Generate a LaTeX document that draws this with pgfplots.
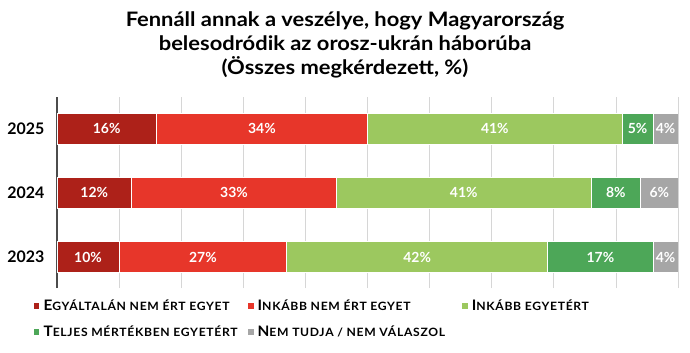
\documentclass[border=0pt]{standalone}
\usepackage{fontspec}
\setmainfont{Lato}
\usepackage{pgfplots}
\usepackage{pgfplotstable}
\pgfplotsset{compat=1.18}
\definecolor{cA}{HTML}{AD2119}
\definecolor{cB}{HTML}{E7362A}
\definecolor{cC}{HTML}{9CC85F}
\definecolor{cD}{HTML}{4DA758}
\definecolor{cE}{HTML}{A6A6A6}
\pgfplotstableread{
y v
0 10
1 12
2 16
}\tA
\pgfplotstableread{
y v
0 27
1 33
2 34
}\tB
\pgfplotstableread{
y v
0 42
1 41
2 41
}\tC
\pgfplotstableread{
y v
0 17
1 8
2 5
}\tD
\pgfplotstableread{
y v
0 4
1 6
2 4
}\tE
\newcommand{\fsc}[2]{{\addfontfeatures{FakeStretch=1.06}\fontsize{14.5}{15}\selectfont #1}{\addfontfeatures{LetterSpace=6,FakeStretch=1.06}\fontsize{11.5}{12}\selectfont #2}}
\newcommand{\legtxt}[1]{\makebox[202bp][l]{\bfseries #1}}
\begin{document}
\begin{tikzpicture}
\useasboundingbox (0,0) rectangle (690bp,353bp);
\tikzset{ttl/.style={anchor=base,font=\fontsize{20}{22}\selectfont\bfseries\addfontfeatures{FakeStretch=1.1}}}
\node[ttl] at (345bp,326bp) {Fennáll annak a veszélye, hogy Magyarország};
\node[ttl] at (345bp,302bp) {belesodródik az orosz-ukrán háborúba};
\node[ttl] at (345bp,278bp) {(Összes megkérdezett, \%)};
\begin{axis}[
  at={(57bp,65bp)}, anchor=south west,
  scale only axis, width=621bp, height=191bp,
  xbar stacked, bar width=31bp,
  xmin=0, xmax=100, ymin=-0.48, ymax=2.49,
  xtick={0,10,...,100}, xticklabels={},
  ytick={0,1,2}, yticklabels={\textbf{2023},\textbf{2024},\textbf{2025}},
  /pgf/number format/assume math mode=true,
  yticklabel style={font=\fontsize{16}{18}\selectfont\bfseries, xshift=-9bp},
  xmajorgrids, major grid style={draw=black!16, line width=0.8bp},
  separate axis lines,
  axis x line*=bottom, axis y line*=left,
  x axis line style={draw=none},
  y axis line style={draw=black!70, line width=1.3bp, -},
  major tick length=0pt,
  every axis plot/.append style={draw=white, line width=0.6bp},
  nodes near coords={\pgfmathprintnumber{\pgfplotspointmeta}\%},
  point meta=explicit,
  every node near coord/.append style={anchor=center, text=white, font=\fontsize{14}{16}\selectfont\bfseries},
  legend columns=3,
  legend style={at={(-0.039,-0.055)}, anchor=north west, draw=none, fill=none,
    inner sep=0pt, row sep=10bp, nodes={inner sep=1.5bp},
    /tikz/every odd column/.append style={column sep=2bp}},
  legend cell align=left,
  legend image code/.code={\fill[#1] (0bp,-3.5bp) rectangle (6.5bp,3.5bp);},
]
\addplot[fill=cA] table[x=v, y=y, meta=v] {\tA};
\addplot[fill=cB] table[x=v, y=y, meta=v] {\tB};
\addplot[fill=cC] table[x=v, y=y, meta=v] {\tC};
\addplot[fill=cD] table[x=v, y=y, meta=v] {\tD};
\addplot[fill=cE] table[x=v, y=y, meta=v] {\tE};
\legend{\legtxt{\fsc{E}{GYÁLTALÁN NEM ÉRT EGYET}},\legtxt{\fsc{I}{NKÁBB NEM ÉRT EGYET}},\legtxt{\fsc{I}{NKÁBB EGYETÉRT}},\legtxt{\fsc{T}{ELJES MÉRTÉKBEN EGYETÉRT}},\legtxt{\fsc{N}{EM TUDJA / NEM VÁLASZOL}}}
\end{axis}
\end{tikzpicture}
\end{document}
